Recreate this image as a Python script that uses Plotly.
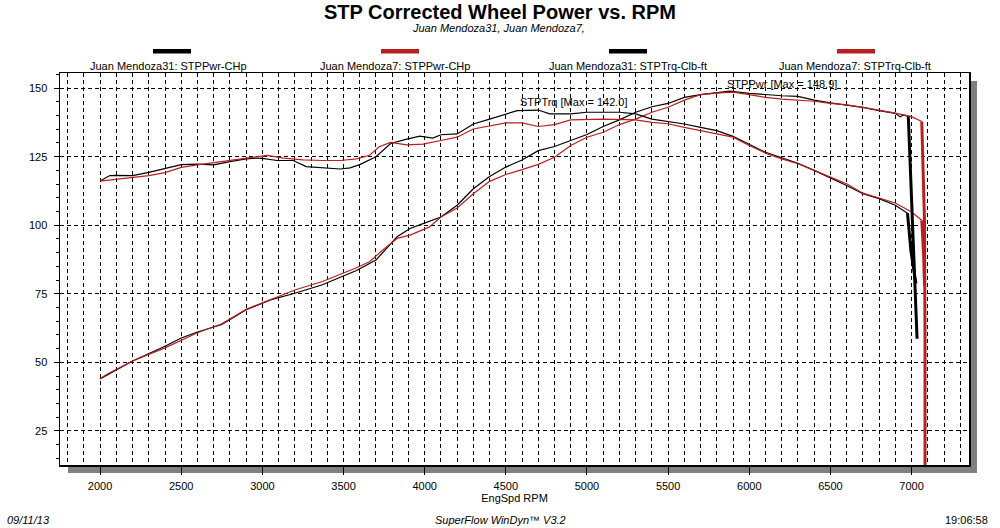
import plotly.graph_objects as go

# ---------------- data ----------------
rpm_trq31 = [2000, 2060, 2100, 2200, 2300, 2400, 2500, 2600, 2700, 2800, 2900, 2960, 3000, 3090, 3190,
             3270, 3370, 3480, 3540, 3600, 3700, 3790, 3890, 3970, 4050, 4100, 4200, 4300, 4400, 4500,
             4570, 4700, 4770, 4900, 5000, 5200, 5300, 5400, 5500, 5600, 5700, 5800, 5900, 6000, 6100,
             6200, 6300, 6400, 6500, 6600, 6700, 6800, 6900, 6975]
trq31 = [116.1, 118.1, 118.2, 118.1, 119.3, 120.8, 122.1, 122.3, 122.0, 123.2, 124.2, 124.5, 124.4, 123.6, 123.6,
         121.4, 120.9, 120.5, 120.9, 122.1, 125.0, 129.8, 131.4, 132.5, 131.8, 133.0, 133.3, 136.9, 138.7, 140.6,
         141.8, 142.0, 140.6, 140.6, 141.2, 141.2, 140.6, 138.7, 137.9, 136.9, 135.7, 134.5, 132.4, 129.4, 126.6,
         124.6, 122.6, 120.0, 117.3, 114.5, 111.5, 109.7, 107.3, 104.4]
rpm_trq31_tail = [6975, 6996, 7017, 7027]
trq31_tail = [104.4, 90.8, 82.4, 78.8]

rpm_trq7 = [2000, 2100, 2200, 2300, 2400, 2500, 2600, 2700, 2800, 2900, 3030, 3130, 3250, 3370, 3480,
            3580, 3660, 3720, 3790, 3890, 3990, 4100, 4200, 4300, 4400, 4500, 4600, 4700, 4800, 4900,
            5100, 5300, 5400, 5500, 5600, 5700, 5800, 5900, 6000, 6100, 6200, 6300, 6400, 6500, 6600,
            6700, 6800, 6900, 7000, 7063]
trq7 = [116.1, 116.8, 117.5, 118.1, 119.2, 121.1, 122.0, 122.8, 123.6, 124.5, 125.5, 124.5, 123.8, 123.6, 123.6,
        124.2, 125.5, 128.6, 130.2, 129.3, 129.6, 130.9, 132.1, 135.1, 136.3, 137.3, 137.3, 136.0, 136.7, 138.4,
        138.7, 138.4, 137.5, 137.0, 135.7, 134.5, 133.3, 132.1, 129.1, 126.3, 124.2, 122.4, 120.0, 117.6, 115.1,
        111.7, 109.9, 108.1, 104.8, 101.8]
rpm_trq7_tail = [7063, 7074, 7080]
trq7_tail = [101.8, 90.0, 78.0]

rpm_pwr31 = [2000, 2200, 2400, 2500, 2600, 2750, 2900, 3050, 3200, 3370, 3580, 3700, 3830, 3910, 3990,
             4100, 4200, 4300, 4400, 4500, 4600, 4700, 4800, 4900, 5000, 5100, 5200, 5300, 5400, 5500,
             5600, 5700, 5800, 5880, 6000, 6100, 6200, 6300, 6400, 6500, 6600, 6700, 6800, 6900, 6930,
             6950, 6980]
pwr31 = [44.0, 50.5, 55.9, 58.9, 61.1, 63.8, 69.2, 72.8, 75.2, 78.3, 83.5, 87.3, 95.8, 98.8, 100.6,
         103.0, 107.3, 113.3, 117.8, 121.2, 123.8, 127.2, 128.7, 130.9, 133.1, 136.0, 138.4, 141.2, 143.2, 144.4,
         146.6, 147.6, 148.3, 148.9, 148.1, 147.6, 147.2, 147.0, 145.6, 144.6, 143.9, 143.0, 141.8, 140.8, 139.5,
         140.2, 139.7]
rpm_pwr31_tail = [6980, 6992, 7006, 7017, 7034]
pwr31_tail = [139.7, 121.3, 97.0, 78.7, 58.6]

rpm_pwr7 = [2000, 2040, 2200, 2400, 2600, 2750, 2900, 3050, 3200, 3370, 3580, 3660, 3740, 3830, 3910,
            4030, 4100, 4200, 4300, 4400, 4500, 4600, 4700, 4800, 4900, 5000, 5100, 5200, 5300, 5400,
            5500, 5600, 5700, 5800, 5900, 6000, 6100, 6200, 6300, 6400, 6500, 6600, 6700, 6800, 6900,
            7000, 7063]
pwr7 = [44.0, 45.6, 50.5, 55.3, 60.8, 64.1, 69.4, 72.8, 76.4, 79.5, 84.5, 86.7, 90.9, 95.2, 96.4,
        99.4, 103.0, 106.3, 111.5, 116.0, 118.5, 120.3, 122.2, 124.8, 129.1, 132.1, 133.9, 136.7, 138.7, 141.2,
        143.0, 145.6, 147.6, 148.2, 148.5, 147.6, 146.6, 146.0, 145.6, 145.2, 144.4, 143.9, 143.0, 142.0, 140.9,
        139.6, 137.8]
rpm_pwr7_tail = [7063, 7072, 7080, 7083, 7083]
pwr7_tail = [137.8, 120.0, 101.0, 60.0, 12.6]

legend_labels = ["Juan Mendoza31: STPPwr-CHp", "Juan Mendoza7: STPPwr-CHp",
                 "Juan Mendoza31: STPTrq-Clb-ft", "Juan Mendoza7: STPTrq-Clb-ft"]
x_ticks = [2000, 2500, 3000, 3500, 4000, 4500, 5000, 5500, 6000, 6500, 7000]
y_ticks = [25, 50, 75, 100, 125, 150]

BLACK = "#000000"
RED = "#BB1E1E"
FONT = "Arial, Liberation Sans, sans-serif"

# ---------------- layout geometry (pixels) ----------------
W, H = 1000, 528
L, R, T, B = 60, 969, 73, 465


def px(x):
    return (x - L) / (R - L)


def py(y):
    return (B - y) / (B - T)


fig = go.Figure()


def add_line(xs, ys, color, width, name):
    fig.add_trace(go.Scatter(x=xs, y=ys, mode="lines", name=name, showlegend=False,
                             line=dict(color=color, width=width), hoverinfo="skip"))


add_line(rpm_pwr31, pwr31, BLACK, 1.2, legend_labels[0])
add_line(rpm_pwr7, pwr7, RED, 1.2, legend_labels[1])
add_line(rpm_trq31, trq31, BLACK, 1.2, legend_labels[2])
add_line(rpm_trq7, trq7, RED, 1.2, legend_labels[3])
add_line(rpm_pwr31_tail, pwr31_tail, BLACK, 3, legend_labels[0])
add_line(rpm_trq31_tail, trq31_tail, BLACK, 3, legend_labels[2])
add_line(rpm_trq7_tail, trq7_tail, RED, 3, legend_labels[3])
add_line(rpm_pwr7_tail, pwr7_tail, RED, 3, legend_labels[1])

shapes = []
# drop shadow of plot frame
shapes.append(dict(type="rect", xref="paper", yref="paper", x0=px(R), x1=px(R + 8), y0=py(B + 8), y1=py(T + 8),
                   fillcolor="#808080", line=dict(width=0), layer="below"))
shapes.append(dict(type="rect", xref="paper", yref="paper", x0=px(L + 8), x1=px(R + 8), y0=py(B + 8), y1=py(B),
                   fillcolor="#808080", line=dict(width=0), layer="below"))

annotations = []
# legend (swatch above text)
leg_cx = [172, 400, 628, 856]
leg_tx = [168, 395, 628, 855]
leg_col = [BLACK, RED, BLACK, RED]
for cx, tx, col, lab in zip(leg_cx, leg_tx, leg_col, legend_labels):
    shapes.append(dict(type="rect", xref="paper", yref="paper", x0=px(cx - 19), x1=px(cx + 19),
                       y0=py(53.5), y1=py(49), fillcolor=col, line=dict(width=0)))
    annotations.append(dict(text=lab, xref="paper", yref="paper", x=px(tx), y=py(66), xanchor="center",
                            yanchor="middle", showarrow=False, font=dict(family=FONT, size=11, color="black")))

# titles
annotations.append(dict(text="<b>STP Corrected Wheel Power vs. RPM</b>", xref="paper", yref="paper",
                        x=px(500), y=py(12), xanchor="center", yanchor="middle", showarrow=False,
                        font=dict(family=FONT, size=20, color="black")))
annotations.append(dict(text="<i>Juan Mendoza31, Juan Mendoza7,</i>", xref="paper", yref="paper",
                        x=px(498), y=py(28), xanchor="center", yanchor="middle", showarrow=False,
                        font=dict(family=FONT, size=11, color="black")))
# footer
annotations.append(dict(text="<i>09/11/13</i>", xref="paper", yref="paper", x=px(5), y=py(520),
                        xanchor="left", yanchor="middle", showarrow=False,
                        font=dict(family=FONT, size=11, color="black")))
annotations.append(dict(text="<i>SuperFlow WinDyn™ V3.2</i>", xref="paper", yref="paper", x=px(500), y=py(520),
                        xanchor="center", yanchor="middle", showarrow=False,
                        font=dict(family=FONT, size=11, color="black")))
annotations.append(dict(text="19:06:58", xref="paper", yref="paper", x=px(990), y=py(520),
                        xanchor="right", yanchor="middle", showarrow=False,
                        font=dict(family=FONT, size=11, color="black")))
# max labels
annotations.append(dict(text="STPTrq [Max = 142.0]", xref="x", yref="y", x=4920, y=145.1,
                        xanchor="center", yanchor="middle", showarrow=False,
                        font=dict(family=FONT, size=11, color="black")))
annotations.append(dict(text="STPPwr [Max = 148.9]", xref="x", yref="y", x=6200, y=151.6,
                        xanchor="center", yanchor="middle", showarrow=False,
                        font=dict(family=FONT, size=11, color="black")))

DASH = "4px,3px"
fig.update_layout(
    width=W, height=H,
    margin=dict(l=L, r=W - R, t=T, b=H - B, pad=0),
    paper_bgcolor="white", plot_bgcolor="white",
    showlegend=False,
    shapes=shapes, annotations=annotations,
    font=dict(family=FONT, size=11, color="black"),
    xaxis=dict(range=[1753, 7354], tickvals=x_ticks, ticktext=[str(v) for v in x_ticks],
               showgrid=True, gridcolor="black", gridwidth=1, griddash=DASH,
               minor=dict(dtick=100, tick0=0, showgrid=True, gridcolor="black", gridwidth=1, griddash=DASH,
                          ticks=""),
               ticks="outside", ticklen=8, tickcolor="black", tickwidth=1,
               showline=True, mirror=True, linecolor="black", linewidth=1.5,
               zeroline=False, tickfont=dict(family=FONT, size=11), ticklabelstandoff=2,
               title=dict(text="EngSpd RPM", font=dict(family=FONT, size=11), standoff=3)),
    yaxis=dict(range=[12.6, 155.5], tickvals=y_ticks, ticktext=[str(v) for v in y_ticks],
               showgrid=True, gridcolor="black", gridwidth=1, griddash=DASH,
               minor=dict(dtick=5, tick0=0, ticks="outside", ticklen=3, tickcolor="black", showgrid=False),
               ticks="outside", ticklen=5, tickcolor="black", tickwidth=1,
               showline=True, mirror=True, linecolor="black", linewidth=1.5,
               zeroline=False, tickfont=dict(family=FONT, size=11), ticklabelstandoff=4),
)

fig.write_html("out.html", config={"displayModeBar": False, "staticPlot": True},
               post_script="document.body.style.margin='0';document.body.style.overflow='hidden';")
